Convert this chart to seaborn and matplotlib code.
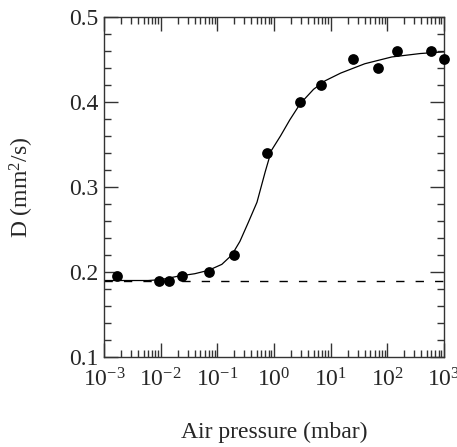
import numpy as np
import matplotlib
matplotlib.use("Agg")
import matplotlib.pyplot as plt
import seaborn as sns
from matplotlib.ticker import LogLocator, MultipleLocator, NullFormatter

# Measured points
pressure = [0.0017, 0.0092, 0.014, 0.024, 0.070, 0.20, 0.74, 2.9, 6.7, 25, 69, 150, 590, 1000]
diffusion = [0.195, 0.19, 0.19, 0.195, 0.20, 0.22, 0.34, 0.40, 0.42, 0.45, 0.44, 0.46, 0.46, 0.45]

# Fitted curve
fit_pressure = [0.001, 0.003, 0.006, 0.01, 0.02, 0.04, 0.07, 0.12, 0.18, 0.25, 0.35, 0.5,
                0.7, 0.9, 1.3, 1.9, 2.9, 5, 8, 15, 40, 120, 380, 1000]
fit_diffusion = [0.190, 0.190, 0.190, 0.191, 0.195, 0.198, 0.202, 0.209, 0.220, 0.236, 0.258, 0.282,
                 0.318, 0.343, 0.360, 0.379, 0.398, 0.415, 0.425, 0.434, 0.445, 0.453, 0.457, 0.459]

# Dry (vacuum) baseline
baseline_pressure = [0.001, 1000]
baseline_diffusion = [0.19, 0.19]

x_ticks = [1e-3, 1e-2, 1e-1, 1e0, 1e1, 1e2, 1e3]
x_ticklabels = ['$10^{-3}$', '$10^{-2}$', '$10^{-1}$', '$10^{0}$', '$10^{1}$', '$10^{2}$', '$10^{3}$']
y_ticks = [0.1, 0.2, 0.3, 0.4, 0.5]
y_ticklabels = ['0.1', '0.2', '0.3', '0.4', '0.5']

sns.set_style("ticks")
plt.rcParams['font.family'] = ['Liberation Serif', 'DejaVu Serif']
plt.rcParams['mathtext.fontset'] = 'custom'
plt.rcParams['mathtext.rm'] = 'Liberation Serif'
plt.rcParams['mathtext.it'] = 'Liberation Serif:italic'
plt.rcParams['mathtext.default'] = 'rm'
plt.rcParams['axes.unicode_minus'] = False

fig, ax = plt.subplots(figsize=(4.57, 4.47), dpi=100)
fig.subplots_adjust(left=0.2276, right=0.9716, top=0.962, bottom=0.2013)

sns.lineplot(x=baseline_pressure, y=baseline_diffusion, ax=ax, color='black',
             linewidth=1, estimator=None)
ax.lines[-1].set_dashes((6, 8))
sns.lineplot(x=fit_pressure, y=fit_diffusion, ax=ax, color='black', linewidth=0.9,
             estimator=None, sort=False)
sns.scatterplot(x=pressure, y=diffusion, ax=ax, color='black', s=60,
                edgecolor='black', linewidth=0, clip_on=False, zorder=5)

ax.set_xscale('log')
ax.set_xlim(1e-3, 1e3)
ax.set_ylim(0.1, 0.5)
ax.set_xticks(x_ticks)
ax.set_xticklabels(x_ticklabels)
ax.xaxis.set_minor_locator(LogLocator(base=10, subs=np.arange(2, 10), numticks=100))
ax.xaxis.set_minor_formatter(NullFormatter())
ax.set_yticks(y_ticks)
ax.set_yticklabels(y_ticklabels)
ax.yaxis.set_minor_locator(MultipleLocator(0.02))

ax.tick_params(which='both', direction='in', top=True, right=True, color='#333333', width=1)
ax.tick_params(which='major', length=10)
ax.tick_params(which='minor', length=5)
ax.tick_params(axis='x', which='major', pad=8, labelsize=17)
ax.tick_params(axis='y', which='major', pad=4, labelsize=17)
for s in ax.spines.values():
    s.set_linewidth(1)
    s.set_color('#333333')
    s.set_visible(True)

ax.set_xlabel('Air pressure (mbar)', fontsize=17, va='top')
ax.set_ylabel('D (mm$^2$/s)', fontsize=17)
ax.xaxis.set_label_coords(0.5, -0.19)
ax.yaxis.set_label_coords(-0.2, 0.5)

fig.savefig('out.png', dpi=100)
